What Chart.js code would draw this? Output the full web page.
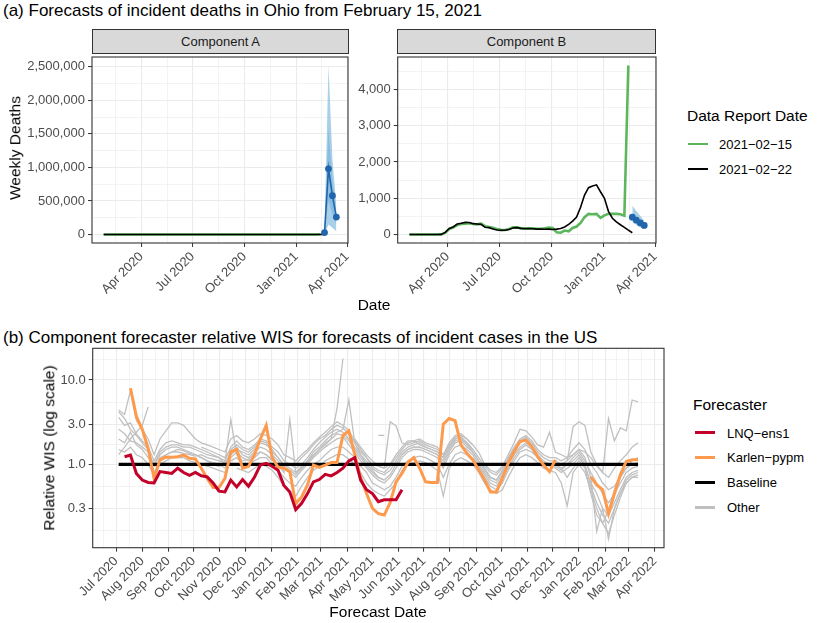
<!DOCTYPE html>
<html>
<head>
<meta charset="utf-8">
<script src="https://cdn.jsdelivr.net/npm/chart.js@4.4.1/dist/chart.umd.min.js"></script>
<style>
html,body{margin:0;padding:0;background:#fff;}
body{width:830px;height:623px;position:relative;overflow:hidden;font-family:"Liberation Sans",Arial,Helvetica,sans-serif;color:#000;}
.t{position:absolute;white-space:nowrap;line-height:1;}
.c{transform:translate(-50%,-50%);}
.r{transform:translate(-50%,-50%) rotate(-90deg);}
.l{transform:translate(0,-50%);}
canvas{position:absolute;}
.strip{position:absolute;background:#d9d9d9;border:1px solid #333;box-sizing:border-box;font-size:13px;color:#1a1a1a;display:flex;align-items:center;justify-content:center;}
.sw{position:absolute;}
</style>
</head>
<body>
<div class="t" style="left:3px;top:2px;font-size:17px;">(a) Forecasts of incident deaths in Ohio from February 15, 2021</div>
<div class="strip" style="left:92px;top:29px;width:257px;height:25px;">Component A</div>
<div class="strip" style="left:397px;top:29px;width:259px;height:25px;">Component B</div>
<canvas id="cA" width="352" height="275" style="left:0;top:53px;"></canvas>
<canvas id="cB" width="312" height="275" style="left:352px;top:53px;"></canvas>
<div class="t r" style="left:15px;top:148px;font-size:15.5px;">Weekly Deaths</div>
<div class="t c" style="left:374px;top:305px;font-size:15.5px;">Date</div>

<div class="t l" style="left:687px;top:116px;font-size:15.5px;">Data Report Date</div>
<div class="sw" style="left:688px;top:142.7px;width:20px;height:2.6px;background:#5cb65c;"></div>
<div class="t l" style="left:719px;top:144px;font-size:13px;">2021−02−15</div>
<div class="sw" style="left:688px;top:168.2px;width:20px;height:1.6px;background:#000;"></div>
<div class="t l" style="left:719px;top:169px;font-size:13px;">2021−02−22</div>

<div class="t" style="left:3px;top:329px;font-size:17px;">(b) Component forecaster relative WIS for forecasts of incident cases in the US</div>
<canvas id="cC" width="672" height="283" style="left:0;top:340px;"></canvas>
<div class="t r" style="left:49px;top:448px;font-size:15.5px;">Relative WIS (log scale)</div>
<div class="t c" style="left:378px;top:612px;font-size:15.5px;">Forecast Date</div>

<div class="t l" style="left:693px;top:405px;font-size:15.5px;">Forecaster</div>
<div class="sw" style="left:695px;top:431.2px;width:20px;height:3px;background:#c2002a;"></div>
<div class="t l" style="left:727px;top:432.7px;font-size:13px;">LNQ−ens1</div>
<div class="sw" style="left:695px;top:455.8px;width:20px;height:3px;background:#fe9a4d;"></div>
<div class="t l" style="left:727px;top:457.3px;font-size:13px;">Karlen−pypm</div>
<div class="sw" style="left:695px;top:480.8px;width:20px;height:3px;background:#000;"></div>
<div class="t l" style="left:727px;top:482.3px;font-size:13px;">Baseline</div>
<div class="sw" style="left:695px;top:505.8px;width:20px;height:3px;background:#c0c0c0;"></div>
<div class="t l" style="left:727px;top:507.3px;font-size:13px;">Other</div>

<script>
// ---------------- DATA: panel (a) ----------------
const truthStart = '2020-01-25';              // first week-ending date of truth data
const report20210222 = [0,0,0,0,0,0,0,0,5,60,
  170,210,290,310,335,330,300,290,280,200,
  190,150,125,115,120,140,180,190,170,160,
  165,160,150,150,145,150,140,150,165,210,
  280,370,480,750,1090,1290,1340,1370,1180,1000,
  640,450,350,270,200,120,50];
const report20210215 = [0,0,0,0,0,0,0,0,5,50,
  150,200,260,290,300,310,290,280,300,230,
  210,190,150,130,125,150,200,200,170,170,
  175,170,160,160,170,190,180,60,50,110,
  90,180,220,320,480,570,560,570,460,530,
  570,570,570,560,520,4660];
const forecastTargets = ['2021-02-20','2021-02-27','2021-03-06','2021-03-13'];
const compA_median = [30000, 980000, 580000, 260000];
const compA_lo95 = [0, 150000, 100000, 50000];
const compA_hi95 = [60000, 2520000, 1130000, 420000];
const compA_lo50 = [10000, 500000, 300000, 150000];
const compA_hi50 = [45000, 1600000, 800000, 350000];
const compB_median = [480, 400, 320, 250];
const compB_lo95 = [330, 270, 200, 140];
const compB_hi95 = [800, 650, 520, 380];
const compB_lo50 = [400, 330, 260, 200];
const compB_hi50 = [580, 480, 390, 310];
const topMonthBreaks = ['2020-01-01','2020-04-01','2020-07-01','2020-10-01','2021-01-01','2021-04-01','2021-07-01'];
const compA_yBreaks = [0, 500000, 1000000, 1500000, 2000000, 2500000];
const compB_yBreaks = [0, 1000, 2000, 3000, 4000];

// ---------------- DATA: panel (b) ----------------
const forecastStart = '2020-07-04'; const nForecastWeeks = 89;
const wisLNQ = [null,1.23,1.29,0.78,0.65,0.61,0.60,0.82,0.80,0.78,
  0.90,0.80,0.74,0.80,0.73,0.71,0.60,0.48,0.47,0.65,
  0.54,0.66,0.55,0.70,0.98,1.03,0.95,0.85,0.56,0.47,
  0.29,0.345,0.45,0.62,0.66,0.76,0.73,0.80,0.90,1.10,
  1.2,0.65,0.50,0.45,0.36,0.38,0.38,0.38,0.50];
const wisKarlen = [null,null,8.0,3.7,2.6,1.55,0.68,1.13,1.22,1.21,
  1.23,1.29,1.18,1.16,0.90,0.68,0.53,0.53,0.68,1.41,
  1.5,0.90,0.94,1.3,2.0,2.9,1.2,0.93,0.90,0.82,
  0.34,0.41,0.57,0.98,0.92,0.98,1.05,1.05,2.2,2.5,
  1.3,0.7,0.45,0.3,0.26,0.25,0.35,0.62,0.78,1.05,
  1.2,0.9,0.62,0.61,0.61,3.0,3.5,3.3,1.7,1.35,
  1.13,0.86,0.65,0.47,0.47,0.68,1.03,1.41,1.86,1.94,
  1.62,1.23,0.98,0.82,1.13,null,null,null,null,null,
  0.71,0.57,0.5,0.26,0.45,0.75,1.08,1.13,1.13];
const wisBaseline = [1,1,1,1,1,1,1,1,1,1, 1,1,1,1,1,1,1,1,1,1, 1,1,1,1,1,1,1,1,1,1,
  1,1,1,1,1,1,1,1,1,1, 1,1,1,1,1,1,1,1,1,1, 1,1,1,1,1,1,1,1,1,1,
  1,1,1,1,1,1,1,1,1,1, 1,1,1,1,1,1,1,1,1,1, 1,1,1,1,1,1,1,1,1];
// other forecasters (values start at week index given in otherStarts)
const other01 = [2.0,1.8,2.4,1.7,1.5,1.2,0.95,1.3,1.5,1.6, 1.6,1.5,1.4,1.3,1.2,1.1,1.0,0.95,1.0,1.4,
  1.6,1.3,1.2,1.4,1.6,1.5,1.3,1.1,0.9,0.8, 0.7,0.85,1.0,1.2,1.4,1.6,1.8,2.0,2.1,1.7,
  1.4,1.1,0.9,0.75,0.65,0.6,0.7,0.9,1.2,1.4, 1.5,1.5,1.4,1.3,1.2,0.9,1.3,1.6,1.7,1.5,
  1.3,1.0,0.8,0.65,0.6,0.75,1.0,1.3,1.6,1.8, 1.6,1.3,1.1,1.0,1.0,0.9,1.0,1.2,1.4,1.1,
  0.8,0.6,0.45,0.35,0.45,0.6,0.8,0.9,0.95];
const other02 = [3.6,2.9,3.1,2.3,1.9,1.6,1.1,1.5,1.8,1.9, 1.8,1.7,1.7,1.6,1.5,1.4,1.3,1.2,1.1,1.6,
  1.9,1.6,1.5,1.7,2.0,1.9,1.6,1.4,1.1,1.0, 0.9,1.0,1.2,1.5,1.8,2.1,2.4,2.6,2.4,2.0,
  1.6,1.3,1.1,0.9,0.8,0.75,0.85,1.1,1.4,1.6, 1.7,1.8,1.6,1.5,1.4,1.2,1.6,2.0,2.1,1.8,
  1.5,1.2,0.95,0.8,0.75,0.9,1.2,1.6,2.0,2.2, 1.9,1.5,1.3,1.2,1.2,1.1,1.2,1.5,1.8,1.5,
  1.0,0.8,0.6,0.5,0.55,0.7,0.9,1.1,1.2];
const other03 = [1.5,1.4,1.6,1.3,1.2,1.0,0.75,1.0,1.1,1.2, 1.2,1.2,1.1,1.05,1.0,0.95,0.9,0.85,0.8,1.1,
  1.2,1.0,1.0,1.1,1.2,1.2,1.0,0.85,0.7,0.6, 0.55,0.7,0.85,1.0,1.1,1.3,1.5,1.6,1.6,1.4,
  1.2,0.95,0.8,0.6,0.55,0.5,0.55,0.7,0.95,1.1, 1.2,1.25,1.2,1.1,1.0,0.7,1.0,1.3,1.4,1.3,
  1.1,0.9,0.7,0.55,0.5,0.6,0.85,1.1,1.4,1.5, 1.4,1.2,1.0,0.95,0.9,0.8,0.9,1.0,1.2,0.95,
  0.6,0.45,0.3,0.25,0.35,0.5,0.7,0.8,0.85];
const other04 = [4.4,3.9,7.5,3.3,2.6,2.0,1.3,2.0,2.5,3.1, 3.1,2.9,2.4,2.0,1.8,1.7,1.6,1.5,1.4,2.0,
  2.2,1.9,1.8,2.0,2.3,2.2,2.0,1.7,1.3,1.2, 1.1,1.3,1.5,1.8,2.1,2.4,2.8,3.2,2.9,2.5,
  1.9,1.5,1.2,1.0,0.95,0.9,1.0,1.3,1.6,1.9, 1.9,2.0,1.8,1.7,1.6,1.3,1.8,2.2,2.3,2.0, 1.7];
const other05 = [1.3,1.6,2.0,2.4,2.9,4.8];
const other06 = [0.7,1.2,1.3,1.4, 1.4,1.35,1.3,1.25,1.3,1.2,1.15,1.1,1.05,3.4,
  1.3,1.1,1.15,1.3,1.4,1.3,1.15,1.0,0.8,3.4, 0.8,0.9,1.1,1.3,1.5,1.7,2.0,4.6,18];
const other07 = [2.6,2.3,1.9,1.8,1.6,1.4,1.0,1.4,1.6,1.7, 1.7,1.6,1.6,1.5,1.4,1.3,1.25,1.2,1.0,1.3,
  1.5,1.4,1.3,1.5,1.8,1.7,1.5,1.2,1.0,0.9, 0.8,0.95,1.1,1.4,1.6,1.9,2.2,2.4,2.6,5.8,
  1.8,1.3,1.0,0.85,0.7,0.65];
const other08 = [2.0,1.6,1.3,1.1,0.95,0.9,3.2,2.85,1.8,1.7, 1.8,1.9,1.7,1.6,1.5,1.3,1.7,2.1,2.2,2.0,
  1.7,1.4,1.0,0.85,0.8,0.95,1.3,1.8,2.6,2.5, 2.1,1.7,1.6,2.4,1.4,1.3,1.2,1.3,1.5,1.4,
  1.2,0.95,0.8,0.7,0.9,1.1,1.3,1.6,1.8];
const other09 = [0.9,0.85,0.8,0.9,1.0,0.95,0.85,0.7,0.55,0.45, 0.42,0.55,0.7,0.85,0.95,1.1,1.2,1.3,1.3,1.15,
  1.0,0.8,0.6,0.5,0.45,0.42,0.5,0.6,0.85,1.0, 1.05,1.1,1.05,0.95,0.85,0.42,0.9,1.1,1.2,1.1,
  1.0,0.8,0.6,0.5,0.45,0.5,0.7,0.95,1.2,1.3, 1.2,1.05,0.9,0.85,0.8,0.6,0.32,0.8,1.0,0.8,
  0.5,0.3,0.2,0.15,0.25,0.4,0.6,0.7,0.75];
const other10 = [1.3,1.5, 1.6,1.6,1.5,1.4,1.3,1.0,1.4,1.8,1.9,1.6, 1.4,1.1,0.85,0.7,0.65,0.8,1.1,1.5,1.9,2.1,
  1.8,1.4,1.2,1.1,1.1,1.0,1.1,1.3,1.5,1.2, 0.7,0.16,0.3,0.13,0.3,0.45,0.65,0.75,0.8];
const other11 = [2.2,2.2];
const other12 = [1.6,1.5,1.4,1.3,1.2,1.5, 1.7,1.5,1.4,1.6,1.9,1.8,1.4,1.2,0.95,0.85,
  0.75,0.9,1.05,1.25,1.5,1.8,2.0,2.3,2.2,1.9, 1.5,1.2,0.95,0.8,0.7,0.65,0.75,1.0,1.3,1.5,
  1.6,1.6,1.5,1.4,1.3,1.1,1.5,1.9,2.0,1.7, 1.4,1.1,0.9,0.7,0.65,0.85,1.15,1.5,1.8,2.0, 1.7];
const other13 = [4.2,3.5,2.6,2.2,1.8,1.5,0.8,1.1,1.3,1.4, 1.5,1.45,1.35,1.3,1.2,1.1,1.05,1.0,0.9,1.2,
  1.4,1.2,1.1,1.2,1.4,1.3,1.1];
const other14 = [1.2,0.95,0.75,0.6,0.55,0.7,0.9,1.2,1.5,1.7, 1.5,1.2,1.05,1.0,0.95,0.85,1.0,1.1,1.3,1.0,
  0.55,0.35,0.25,0.2,0.3,0.45,0.6,0.7,0.7];
const other15 = [1.1,2.8,3.2,2.9,1.4,1.0,0.8,3.5,1.9,2.7,2.5,5.8,5.5];
const other16 = [1.0,1.2,1.4,1.7,2.0,2.2,2.6,2.9,2.7,2.3, 1.8,1.4,1.2,0.95,0.85,0.8,0.95,1.2,1.5,1.8,
  1.9,1.7,1.6,1.5,1.4,1.2,1.6,2.0,2.1,1.8, 1.5];
const other17 = [1.0,0.9,0.7,0.9,1.1,0.9,0.45,0.25,0.2,0.28,0.5,0.7,0.9,1.0,1.05];
const otherStarts = {other01:0,other02:0,other03:0,other04:0,other05:0,other06:6,other07:0,other08:40,
  other09:20,other10:48,other11:44,other12:14,other13:0,other14:60,other15:76,other16:30,other17:74};
const otherList = [other01,other02,other03,other04,other05,other06,other07,other08,other09,other10,
  other11,other12,other13,other14,other15,other16,other17];
const otherNames = Object.keys(otherStarts);
const wisMajor = [0.3, 1, 3, 10];
const wisMinor = [0.166, 0.548, 1.73, 5.48, 17.3];
const bottomMonthBreaks = ['2020-06-01','2020-07-01','2020-08-01','2020-09-01','2020-10-01','2020-11-01','2020-12-01',
  '2021-01-01','2021-02-01','2021-03-01','2021-04-01','2021-05-01','2021-06-01','2021-07-01','2021-08-01',
  '2021-09-01','2021-10-01','2021-11-01','2021-12-01','2022-01-01','2022-02-01','2022-03-01','2022-04-01','2022-05-01'];

// ---------------- helpers ----------------
const MONTHS = ['Jan','Feb','Mar','Apr','May','Jun','Jul','Aug','Sep','Oct','Nov','Dec'];
function dayNum(s){const p=s.split('-').map(Number);return Date.UTC(p[0],p[1]-1,p[2])/86400000;}
function weekly(start,n){const d0=dayNum(start);const a=[];for(let k=0;k<n;k++)a.push(d0+7*k);return a;}
function fmtMonth(d){const dt=new Date(Math.round(d)*86400000);return MONTHS[dt.getUTCMonth()]+' '+dt.getUTCFullYear();}
function monthTicks(breaks,min,max){
  const maj=breaks.map(dayNum);const out=[];
  for(let i=0;i<maj.length;i++){
    if(maj[i]>=min&&maj[i]<=max)out.push({value:maj[i],minor:false});
    if(i<maj.length-1){const m=(maj[i]+maj[i+1])/2;if(m>=min&&m<=max)out.push({value:m,minor:true});}
  }
  return out.sort((a,b)=>a.value-b.value);
}
function linTicks(breaks,min,max){
  const out=[];
  for(let i=0;i<breaks.length;i++){
    if(breaks[i]>=min&&breaks[i]<=max)out.push({value:breaks[i],minor:false});
    const step=breaks[1]-breaks[0];const m=breaks[i]+step/2;if(m>=min&&m<=max)out.push({value:m,minor:true});
  }
  return out.sort((a,b)=>a.value-b.value);
}
const pts=(xs,ys)=>ys.map((y,i)=>({x:xs[i],y:y}));
const tickFont={family:'Liberation Sans',size:13};
const gridOpts=()=>({color:'#ebebeb',lineWidth:c=>(c.tick&&c.tick.minor)?0.6:1.1,drawTicks:true,tickLength:4,
  tickColor:c=>(c.tick&&c.tick.minor)?'rgba(0,0,0,0)':'#333',tickWidth:1});
const panelBorder={id:'panelBorder',afterDatasetsDraw(chart){const a=chart.chartArea,ctx=chart.ctx;ctx.save();
  ctx.strokeStyle='#333';ctx.lineWidth=1.1;ctx.strokeRect(a.left,a.top,a.right-a.left,a.bottom-a.top);ctx.restore();}};
function xAxis(min,max,ticks,h){
  return {type:'linear',min:min,max:max,grid:gridOpts(),border:{display:false},
    afterBuildTicks:s=>{s.ticks=ticks.map(t=>({value:t.value,minor:t.minor}));},
    afterFit:s=>{s.height=h;s.paddingLeft=0;s.paddingRight=0;},
    ticks:{autoSkip:false,minRotation:45,maxRotation:45,padding:2,font:tickFont,color:'#4d4d4d',
      callback:(v,i,t)=>t[i]&&t[i].minor?'':fmtMonth(v)}};
}
function yAxis(type,min,max,ticks,w,fmt){
  return {type:type,min:min,max:max,grid:gridOpts(),border:{display:false},
    afterBuildTicks:s=>{s.ticks=ticks.map(t=>({value:t.value,minor:t.minor}));},
    afterFit:s=>{s.width=w;s.paddingTop=0;s.paddingBottom=0;},
    ticks:{autoSkip:false,padding:3,font:tickFont,color:'#4d4d4d',
      callback:(v,i,t)=>t[i]&&t[i].minor?'':fmt(v)}};
}
const baseOpts={responsive:false,animation:false,events:[],
  plugins:{legend:{display:false},tooltip:{enabled:false}}};

// ---------------- top panels ----------------
const truthDates=weekly(truthStart,report20210222.length);
const fcDates=forecastTargets.map(dayNum);
const xMinTop=truthDates[0]-0.05*(fcDates[3]-truthDates[0]);
const xMaxTop=fcDates[3]+0.05*(fcDates[3]-truthDates[0]);
const topXTicks=monthTicks(topMonthBreaks,xMinTop,xMaxTop);
const BLUE='#2166ac';
function topDatasets(med,lo95,hi95,lo50,hi50){
  return [
    {data:pts(fcDates,med),borderColor:BLUE,backgroundColor:BLUE,borderWidth:1.6,pointRadius:3.4,pointBorderWidth:0,fill:false},
    {data:pts(truthDates,report20210222),borderColor:'#000',borderWidth:1.6,pointRadius:0,fill:false},
    {data:pts(truthDates,report20210215),borderColor:'#5cb65c',borderWidth:2.6,pointRadius:0,fill:false},
    {data:pts(fcDates,hi50),borderWidth:0,pointRadius:0,fill:'+1',backgroundColor:'rgba(66,146,198,0.3)'},
    {data:pts(fcDates,lo50),borderWidth:0,pointRadius:0,fill:false},
    {data:pts(fcDates,hi95),borderWidth:0,pointRadius:0,fill:'+1',backgroundColor:'rgba(140,192,226,0.75)'},
    {data:pts(fcDates,lo95),borderWidth:0,pointRadius:0,fill:false}
  ];
}
const fmtComma=v=>Math.round(v).toLocaleString('en-US');
const maxA=Math.max(...compA_hi95), maxB=Math.max(...report20210215);
const yA=[-0.05*maxA,1.05*maxA], yB=[-0.05*maxB,1.05*maxB];
new Chart(document.getElementById('cA'),{type:'line',
  data:{datasets:topDatasets(compA_median,compA_lo95,compA_hi95,compA_lo50,compA_hi50)},
  options:Object.assign({},baseOpts,{layout:{padding:{left:0,right:3,top:0,bottom:0}},
    scales:{x:xAxis(xMinTop,xMaxTop,topXTicks,85),
      y:yAxis('linear',yA[0],yA[1],linTicks(compA_yBreaks,yA[0],yA[1]),92,fmtComma)}}),
  plugins:[panelBorder]});
new Chart(document.getElementById('cB'),{type:'line',
  data:{datasets:topDatasets(compB_median,compB_lo95,compB_hi95,compB_lo50,compB_hi50)},
  options:Object.assign({},baseOpts,{layout:{padding:{left:0,right:8,top:0,bottom:0}},
    scales:{x:xAxis(xMinTop,xMaxTop,topXTicks,85),
      y:yAxis('linear',yB[0],yB[1],linTicks(compB_yBreaks,yB[0],yB[1]),45.7,fmtComma)}}),
  plugins:[panelBorder]});

// ---------------- bottom panel ----------------
const fDates=weekly(forecastStart,nForecastWeeks);
const span=fDates[fDates.length-1]-fDates[0];
const xMinB=fDates[0]-0.05*span, xMaxB=fDates[fDates.length-1]+0.05*span;
const yMinB=0.1025, yMaxB=23.8;
const wisTicks=wisMajor.map(v=>({value:v,minor:false})).concat(wisMinor.map(v=>({value:v,minor:true})))
  .filter(t=>t.value>=yMinB&&t.value<=yMaxB).sort((a,b)=>a.value-b.value);
const bDatasets=[
  {data:pts(fDates,wisLNQ),borderColor:'#c2002a',borderWidth:3,pointRadius:0,fill:false},
  {data:pts(fDates,wisKarlen),borderColor:'#fe9a4d',borderWidth:3,pointRadius:0,fill:false},
  {data:pts(fDates,wisBaseline),borderColor:'#000',borderWidth:3.2,pointRadius:0,fill:false}
];
otherList.forEach((arr,k)=>{
  const s=otherStarts[otherNames[k]];
  bDatasets.push({data:arr.map((y,i)=>({x:fDates[s+i],y:y})),borderColor:'#c0c0c0',borderWidth:1.3,pointRadius:0,fill:false});
});
new Chart(document.getElementById('cC'),{type:'line',
  data:{datasets:bDatasets},
  options:Object.assign({},baseOpts,{layout:{padding:{left:0,right:8,top:8.3,bottom:0}},
    scales:{x:xAxis(xMinB,xMaxB,monthTicks(bottomMonthBreaks,xMinB,xMaxB),75.3),
      y:yAxis('logarithmic',yMinB,yMaxB,wisTicks,92.7,v=>v.toFixed(1))}}),
  plugins:[panelBorder]});
</script>
</body>
</html>
